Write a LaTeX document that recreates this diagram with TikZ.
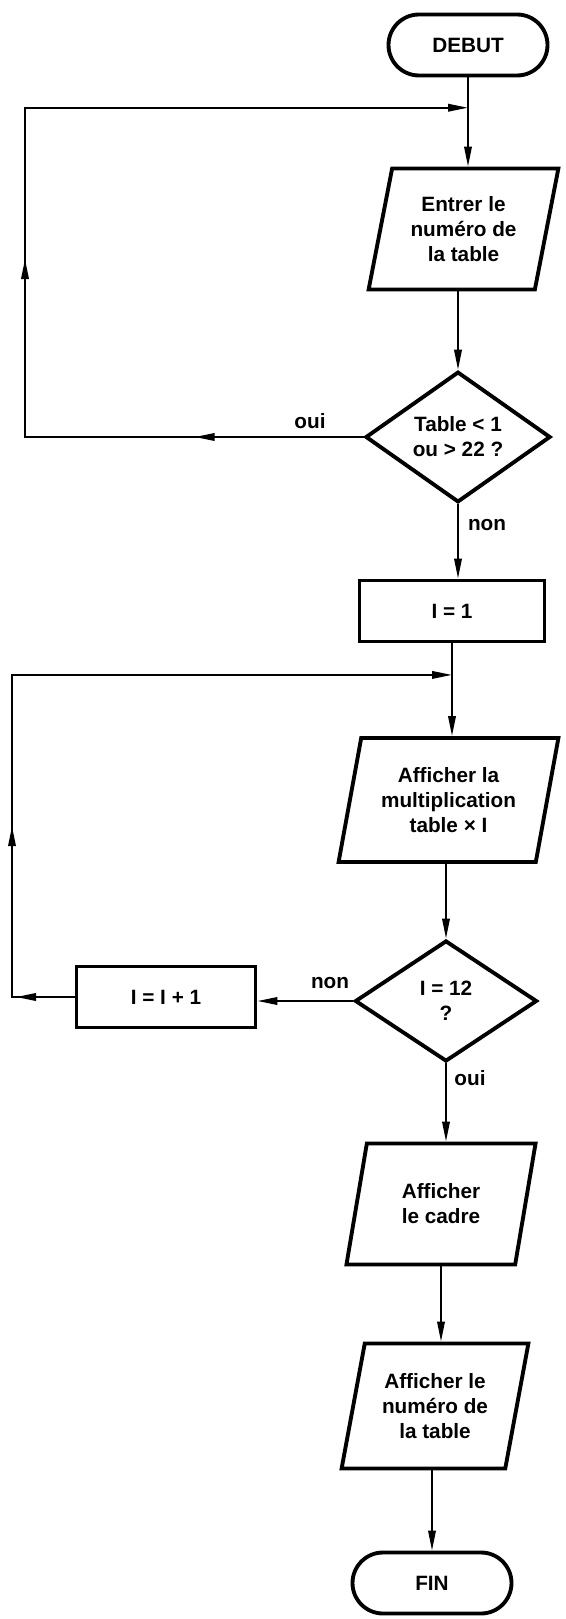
\documentclass[tikz,border=0pt]{standalone}
\usepackage{fontspec}
\setmainfont{Liberation Sans}
\usetikzlibrary{arrows.meta, shapes.geometric, shapes.misc, calc, decorations.markings}
\tikzset{
  every picture/.style={font=\bfseries\fontsize{11.8}{14.2}\selectfont},
  term/.style={draw, rounded rectangle, line width=2.2pt, minimum width=3.18cm, minimum height=1.22cm, inner sep=0pt},
  proc/.style={draw, rectangle, line width=2.2pt, minimum width=3.7cm, minimum height=1.22cm, inner sep=0pt},
  io/.style={draw, trapezium, trapezium left angle=75, trapezium right angle=105, trapezium stretches=true,
    line width=2.2pt, align=center, inner sep=0pt, minimum height=2.42cm, minimum width=#1},
  io/.default=3.8cm,
  test/.style={draw, diamond, line width=2.2pt, align=center, inner sep=0pt, minimum width=3.7cm, minimum height=2.45cm},
  link/.style={line width=1.1pt, -{Triangle[length=4mm, width=1.5mm]}},
  tipat/.style={postaction={decorate, decoration={markings,
    mark=at position #1 with {\arrow{Triangle[length=4mm, width=1.5mm]}}}}},
  lbl/.style={inner sep=1pt},
}

\begin{document}
\begin{tikzpicture}[x=0.2mm, y=-0.2mm]
  \useasboundingbox (0,0) rectangle (565,1619);
  % main column
  \node[term] (debut) at (468,45) {DEBUT};
  \node[io=3.82cm] (entree) at (463.5,229) {Entrer le\\numéro de\\la table};
  \node[test] (test1) at (458,437) {Table < 1\\ou > 22 ?};
  \node[proc] (init) at (452,611) {I = 1};
  \node[io=4.42cm, minimum height=2.48cm] (affmul) at (448.5,800) {Afficher la\\multiplication\\table × I};
  \node[test, minimum width=3.64cm, minimum height=2.42cm] (test2) at (446,1001) {I = 12\\?};
  \node[proc, minimum width=3.58cm] (incr) at (166,997) {I = I + 1};
  \node[io=3.8cm] (cadre) at (441,1204) {Afficher\\le cadre};
  \node[io=3.76cm, minimum height=2.5cm] (affnum) at (435,1406) {Afficher le\\numéro de\\la table};
  \node[term] (fin) at (432,1583) {FIN};

  % labels
  \node[lbl] (oui1) at (310,421) {oui};
  \node[lbl] (non1) at (487,525) {non};
  \node[lbl] (non2) at (330,983) {non};
  \node[lbl] (oui2) at (470,1078) {oui};

  % junctions and left returns
  \coordinate (j1) at ($(debut.south)!0.34!(debut.south |- entree.north)$);
  \coordinate (j2) at ($(init.south)!0.34!(init.south |- affmul.north)$);
  \coordinate (gauche1) at (25,0);
  \coordinate (gauche2) at (12,0);

  % connectors
  \draw[link] (debut.south) -- (debut.south |- entree.north);
  \draw[link] (test1.north |- entree.south) -- (test1.north);
  \draw[link] (test1.south) -- (test1.south |- init.north);
  \draw[link] (init.south) -- (init.south |- affmul.north);
  \draw[link] (test2.north |- affmul.south) -- (test2.north);
  \draw[link] (test2.south) -- (test2.south |- cadre.north);
  \draw[link] (cadre.center |- cadre.south) -- (cadre.center |- affnum.north);
  \draw[link] (fin.north |- affnum.south) -- (fin.north);
  \draw[link] (test2.west) -- (test2.west -| incr.east);
  \draw[link, tipat=0.152, tipat=0.465] (test1.west) -- (test1.west -| gauche1) |- (j1);
  \draw[link, tipat=0.071, tipat=0.283] (incr.west) -- (incr.west -| gauche2) |- (j2);
\end{tikzpicture}
\end{document}
